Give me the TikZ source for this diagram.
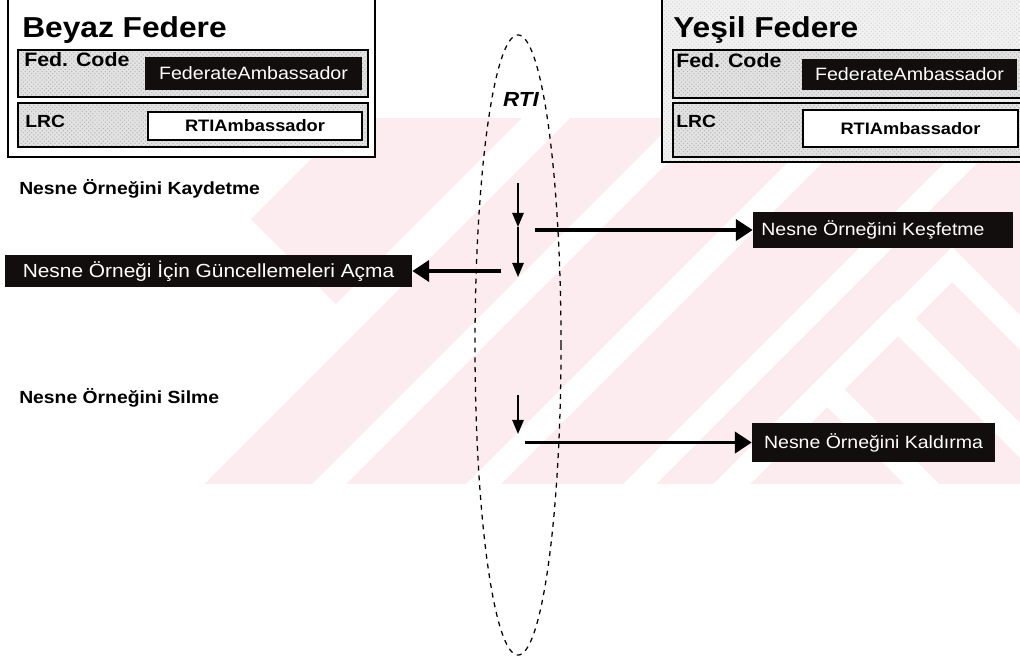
\documentclass[tikz,border=0pt]{standalone}
\usepackage{fontspec}
\setmainfont{Liberation Sans}[FakeStretch=1.1]
\usetikzlibrary{arrows.meta,patterns,shapes.geometric}
\definecolor{wmpink}{RGB}{252,235,239}
\definecolor{boxblack}{RGB}{18,14,14}

\begin{document}
\begin{tikzpicture}[x=0.025cm,y=-0.025cm,
  outerbox/.style={draw=black,line width=1pt,inner sep=0pt},
  row/.style={draw=black,line width=1.4pt,inner sep=0pt,
    preaction={fill=gray!22},pattern=crosshatch dots,pattern color=gray!60},
  title/.style={font=\bfseries\fontsize{20.5}{24}\selectfont,inner sep=0pt},
  lbl/.style={font=\bfseries\fontsize{12.5}{14}\selectfont,inner sep=0pt},
  codelbl/.style={font=\bfseries\fontsize{13.8}{15}\selectfont,inner sep=0pt},
  blackbox/.style={fill=boxblack,text=white,inner sep=0pt,
    font=\fontsize{12.7}{14}\selectfont},
  whitebox/.style={draw=black,line width=1.2pt,fill=white,inner sep=0pt,
    font=\bfseries\fontsize{11.8}{13}\selectfont},
  msgbox/.style={fill=boxblack,text=white,inner sep=0pt,
    font=\fontsize{12.6}{14}\selectfont},
  harrow/.style={line width=2.8pt,-{Triangle[length=12pt,width=15pt]}},
  varrow/.style={line width=1.4pt,-{Triangle[length=10pt,width=8pt]}},
  rtiline/.style={draw=black,line width=0.9pt,dash pattern=on 3.5pt off 3.5pt,
    ellipse,inner sep=0pt}
]
\useasboundingbox (0,0) rectangle (1020,658);
\clip (0,0) rectangle (1020,658);

% background watermark: pink field cut by white diagonal bands
\begin{scope}
  \clip (90,118) rectangle (1020,483);
  \fill[wmpink] (370,100) -- (1100,100) -- (1100,500) -- (188,500)
    -- (360,328) -- (251,219) -- cycle;
  \foreach \a/\b in {640/688,796/830,950/985,1107/1140}
    \fill[white] ({\a-100},100) -- ({\b-100},100) -- ({\b-500},500)
      -- ({\a-500},500) -- cycle;
  \foreach \ax/\ay in {827/372,897/300,952/247}
    \fill[white] (\ax,\ay) -- ++(200,200) -- ++(0,35) -- (\ax,{\ay+35})
      -- ++(-200,200) -- ++(0,-35) -- cycle;
\end{scope}

% left federate
\node[outerbox,fill=white,minimum width=9.175cm,minimum height=4.175cm] (beyaz) at (191.5,73.5) {};
\node[title,anchor=base west] (beyazt) at (22,37) {Beyaz Federe};
\node[row,minimum width=8.75cm,minimum height=1.175cm] (fc1) at (193,73.5) {};
\node[codelbl,anchor=base west] (fcl1) at (24,66) {Fed. Code};
\node[blackbox,minimum width=5.425cm,minimum height=0.825cm] (fa1) at (253.5,73.5) {FederateAmbassador};
\node[row,minimum width=8.75cm,minimum height=1.1cm] (lrc1) at (193,125) {};
\node[lbl,anchor=base west] (lrcl1) at (25,127) {LRC};
\node[whitebox,minimum width=5.35cm,minimum height=0.7cm] (ra1) at (255,126) {RTIAmbassador};

% right federate
\node[outerbox,preaction={fill=gray!10},pattern=crosshatch dots,pattern color=gray!35,
  minimum width=9.45cm,minimum height=4.3cm] (yesil) at (851,76) {};
\node[title,anchor=base west] (yesilt) at (673,37) {Yeşil Federe};
\node[row,minimum width=9.05cm,minimum height=1.2cm] (fc2) at (854,74) {};
\node[codelbl,anchor=base west] (fcl2) at (676,67) {Fed. Code};
\node[blackbox,minimum width=5.375cm,minimum height=0.775cm] (fa2) at (909.5,74.5) {FederateAmbassador};
\node[row,minimum width=9.05cm,minimum height=1.35cm] (lrc2) at (854,130) {};
\node[lbl,anchor=base west] (lrcl2) at (676,127) {LRC};
\node[whitebox,minimum width=5.375cm,minimum height=0.925cm] (ra2) at (910.5,128.5) {RTIAmbassador};

% RTI
\node[rtiline,minimum width=2.15cm,minimum height=15.5cm] (rtiell) at (518,345) {};
\node[font=\bfseries\itshape\fontsize{14.5}{16}\selectfont,inner sep=0pt] (rti) at (521,99) {RTI};

% left-hand service labels
\node[lbl,anchor=base west] (kayd) at (19,194) {Nesne Örneğini Kaydetme};
\node[lbl,anchor=base west] (silme) at (19,403) {Nesne Örneğini Silme};

% callbacks
\node[msgbox,minimum width=6.5cm,minimum height=0.9cm] (kesfet) at (883,230) {Nesne Örneğini Keşfetme\hspace*{0.5cm}};
\node[msgbox,font=\fontsize{13.5}{15}\selectfont,minimum width=10.175cm,minimum height=0.8cm] (acma) at (208.5,271) {Nesne Örneği İçin Güncellemeleri Açma};
\node[msgbox,minimum width=6.075cm,minimum height=0.975cm] (kaldir) at (873.5,442.5) {Nesne Örneğini Kaldırma};

% flow through the RTI
\coordinate (v1) at (518,183);
\coordinate (v2) at (518,227);
\coordinate (v3) at (518,277);
\coordinate (h1) at (535,230);
\coordinate (h2) at (501,271);
\coordinate (v4) at (518,395);
\coordinate (v5) at (518,434);
\coordinate (h3) at (525,442.5);

\draw[varrow] (v1) -- (v2);
\draw[varrow] (v2) -- (v3);
\draw[harrow] (h1) -- (kesfet.west);
\draw[harrow] (h2) -- (acma.east);
\draw[varrow] (v4) -- (v5);
\draw[harrow] (h3) -- (kaldir.west);
\end{tikzpicture}
\end{document}
